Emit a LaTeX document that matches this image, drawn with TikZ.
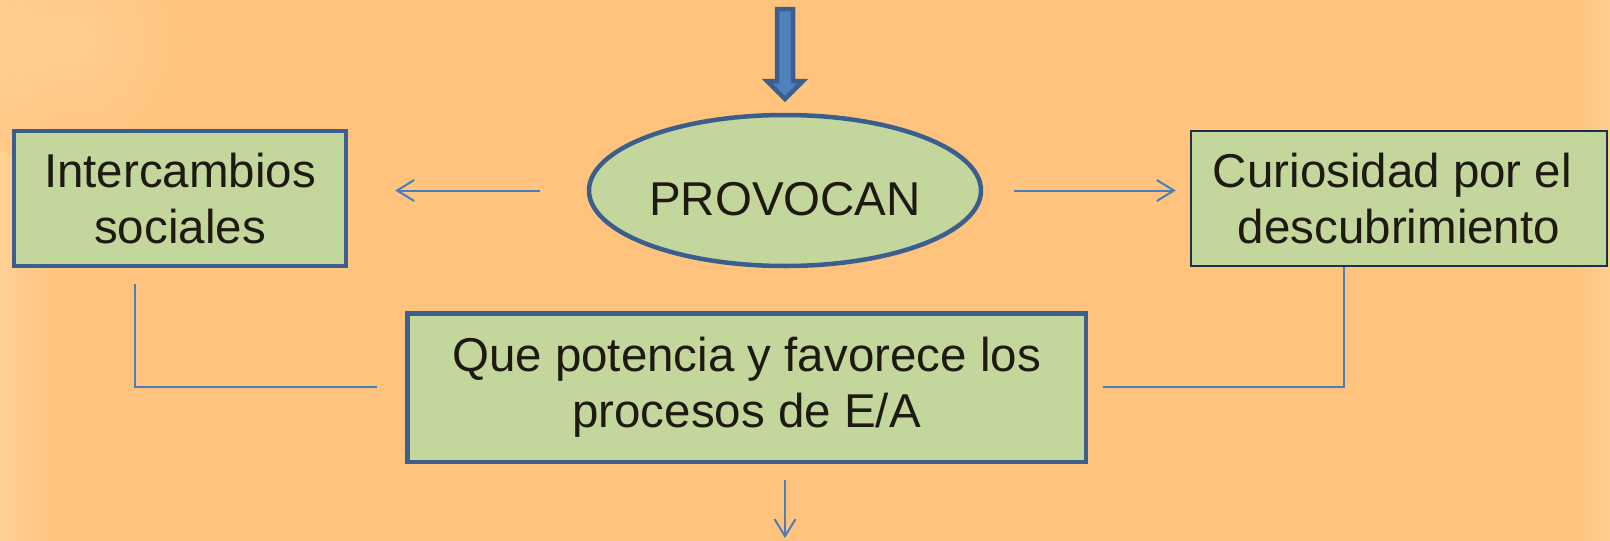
\documentclass[tikz,border=0pt]{standalone}
\usepackage{fontspec}
\setmainfont{Liberation Sans}
\usetikzlibrary{arrows.meta,shapes.geometric}
\definecolor{bg}{HTML}{FFC37D}
\definecolor{boxfill}{HTML}{C3D69B}
\definecolor{boxline}{HTML}{3A5F8F}
\definecolor{arrline}{HTML}{4A7EBB}
\definecolor{blockfill}{HTML}{4F81BD}
\definecolor{txt}{HTML}{1E1A12}
\definecolor{navy}{HTML}{1B2F4E}
\definecolor{light}{HTML}{FFD89E}
\begin{document}
\begin{tikzpicture}[x=1pt,y=-1pt,
  boxstyle/.style={draw=boxline, line width=4.5pt, fill=boxfill, text=txt,
    align=center, inner sep=0pt, font=\fontsize{47.5}{56}\selectfont},
  thinbox/.style={boxstyle, draw=navy, line width=2.5pt},
  ovalstyle/.style={boxstyle, ellipse},
  conn/.style={draw=arrline, line width=2pt},
  arr/.style={conn, -{Straight Barb[length=17pt,width=21pt]}},
  blockarrow/.style={fill=blockfill, draw=boxline, line width=4.5pt, line join=miter}
]
\useasboundingbox (0,0) rectangle (1610,541);
\fill[bg] (0,0) rectangle (1610,541);
% soft texture at the edges
\begin{scope}
\clip (0,0) rectangle (1610,541);
\shade[left color=light, right color=bg, opacity=0.7] (0,0) rectangle (60,541);
\shade[inner color=light, outer color=bg, opacity=0.6] (70,40) circle[radius=130];
\shade[left color=bg, right color=light, opacity=0.5] (1570,0) rectangle (1610,541);
\end{scope}

% nodes
\node[boxstyle, minimum width=332pt, minimum height=135pt] (left) at (180,198.5)
  {Intercambios\\sociales};
\node[thinbox, minimum width=416pt, minimum height=135pt] (right) at (1399,198.5)
  {Curiosidad por el\kern13pt\\descubrimiento};
\node[ovalstyle, minimum width=392pt, minimum height=151pt, text height=49pt, text depth=0pt] (ell) at (785,190.5)
  {PROVOCAN};
\node[boxstyle, minimum width=678.5pt, minimum height=148.5pt] (cbox) at (746.5,387.5)
  {Que potencia y favorece los\\procesos de E/A};

% block arrow at the top
\path[blockarrow] (777,9) -- (793,9) -- (793,81) -- (803,81) -- (785,99) -- (767,81) -- (777,81) -- cycle;

% arrows from the ellipse
\draw[arr, shorten <=47pt, shorten >=47pt] (ell.west) -- (ell.west -| left.east);
\draw[arr, shorten <=31pt, shorten >=14pt] (ell.east) -- (ell.east -| right.west);

% connectors to the centre box
\coordinate (l1) at (135,284);
\coordinate (l2) at (377,387);
\draw[conn] (l1) |- (l2);
\coordinate (r1) at (1344,266);
\coordinate (r2) at (1103,387);
\draw[conn] (right.south -| r1) |- (r2);

% arrow below the centre box
\coordinate (bot) at (785,538);
\draw[arr, shorten <=16pt] (cbox.south -| bot) -- (bot);
\end{tikzpicture}
\end{document}
